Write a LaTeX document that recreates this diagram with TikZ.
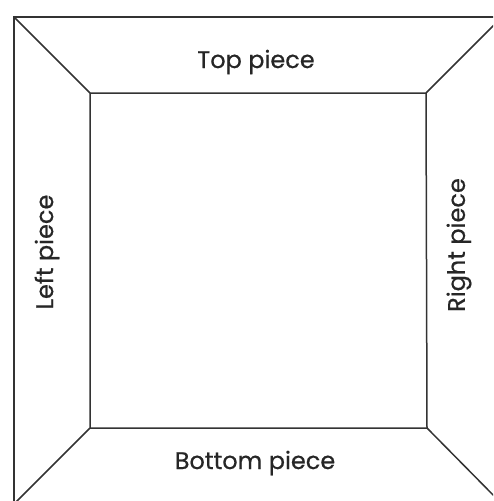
\documentclass[tikz,border=0pt]{standalone}
\usepackage{fontspec}
\setmainfont{Poppins}[FakeBold=0.6]
\begin{document}
\begin{tikzpicture}[x=1pt,y=-1pt,
  frame/.style={line width=1.8pt,draw=black!80},
  lbl/.style={font=\fontsize{24}{26}\selectfont,text=black!85,inner sep=0pt}]
\useasboundingbox (0,0) rectangle (493,501);
\clip (0,0) rectangle (493,501);
\coordinate (o1) at (14,17);
\coordinate (o2) at (502,17);
\coordinate (o3) at (502,504);
\coordinate (o4) at (14,504);
\coordinate (i1) at (90,93);
\coordinate (i2) at (426,93);
\coordinate (i3) at (427,428);
\coordinate (i4) at (90,428);
\draw[frame] (o1) -- (o2) -- (o3) -- (o4) -- cycle;
\draw[frame,line width=1.5pt] (i1) -- (i2) -- (i3) -- (i4) -- cycle;
\draw[frame,line width=1.5pt] (o1) -- (i1);
\draw[frame,line width=1.5pt] (o2) -- (i2);
\draw[frame,line width=1.5pt] (o3) -- (i3);
\draw[frame,line width=1.5pt] (o4) -- (i4);
\node[lbl] (top) at (256,62) {Top piece};
\node[lbl] (bot) at (255,463) {Bottom piece};
\node[lbl,rotate=90] (left) at (47,252) {Left piece};
\node[lbl,rotate=90] (right) at (459,245) {Right piece};
\end{tikzpicture}
\end{document}
